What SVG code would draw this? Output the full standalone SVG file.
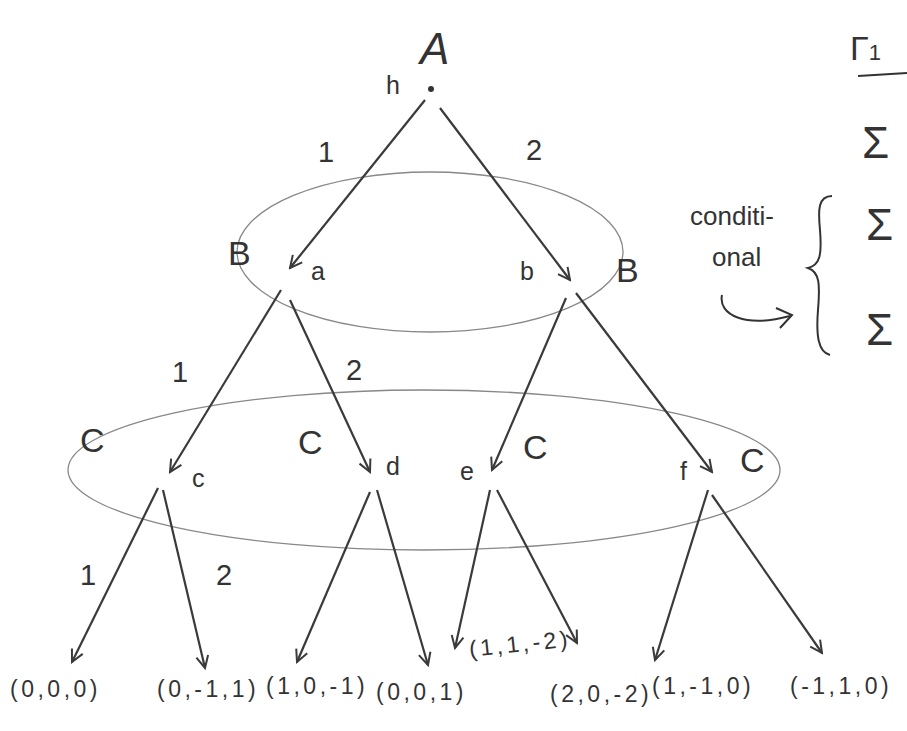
<svg xmlns="http://www.w3.org/2000/svg" width="907" height="731" viewBox="0 0 907 731">
<style>
text{font-family:"Liberation Sans",Arial,sans-serif;fill:#333}
.e{stroke:#3a3a3a;stroke-width:2.2;fill:none;marker-end:url(#ah)}
.set{stroke:#888;stroke-width:1.3;fill:none}
.pl{font-size:34px}
.sm{font-size:25px}
.lf{font-size:23px;letter-spacing:3.5px}
.el{font-size:29px}
.nt{font-size:26px}
</style>
<defs>
<marker id="ah" markerWidth="16" markerHeight="16" refX="14" refY="8" orient="auto" markerUnits="userSpaceOnUse">
<path d="M2,2 L14,8 L2,14" fill="none" stroke="#3a3a3a" stroke-width="2"/>
</marker>
</defs>
<rect width="907" height="731" fill="#fff"/>

<g id="infosets">
<ellipse class="set" cx="430" cy="252" rx="193" ry="80"/>
<ellipse class="set" cx="424" cy="470" rx="356" ry="80"/>
</g>

<g id="connectors">
<path class="e" d="M425,100 L290,268"/>
<path class="e" d="M440,108 L570,280"/>
<path class="e" d="M281,290 L170,472"/>
<path class="e" d="M290,300 L370,472"/>
<path class="e" d="M566,298 L492,470"/>
<path class="e" d="M576,293 L712,472"/>
<path class="e" d="M158,488 L72,662"/>
<path class="e" d="M163,490 L205,668"/>
<path class="e" d="M370,492 L297,662"/>
<path class="e" d="M377,490 L428,665"/>
<path class="e" d="M490,490 L455,648"/>
<path class="e" d="M497,490 L577,643"/>
<path class="e" d="M708,490 L655,660"/>
<path class="e" d="M712,495 L822,653"/>
<text class="el" x="318" y="162">1</text>
<text class="el" x="526" y="160">2</text>
<text class="el" x="172" y="382">1</text>
<text class="el" x="346" y="380">2</text>
<text class="el" x="80" y="585">1</text>
<text class="el" x="216" y="585">2</text>
</g>

<g id="root">
<circle cx="431" cy="89" r="3" fill="#333"/>
<text x="420" y="64" style="font-size:44px;font-style:italic">A</text>
<text class="sm" x="386" y="94">h</text>
</g>

<g id="node-a">
<text class="pl" x="228" y="265">B</text>
<text class="sm" x="311" y="280">a</text>
</g>
<g id="node-b">
<text class="sm" x="520" y="280">b</text>
<text class="pl" x="616" y="282">B</text>
</g>

<g id="node-c">
<text class="pl" x="80" y="452">C</text>
<text class="sm" x="192" y="487">c</text>
</g>
<g id="node-d">
<text class="pl" x="298" y="454">C</text>
<text class="sm" x="386" y="475">d</text>
</g>
<g id="node-e">
<text class="sm" x="460" y="480">e</text>
<text class="pl" x="523" y="459">C</text>
</g>
<g id="node-f">
<text class="sm" x="680" y="480">f</text>
<text class="pl" x="740" y="472">C</text>
</g>

<g id="leaves">
<text class="lf" x="10" y="697">(0,0,0)</text>
<text class="lf" x="157" y="697">(0,-1,1)</text>
<text class="lf" x="266" y="694">(1,0,-1)</text>
<text class="lf" x="376" y="700">(0,0,1)</text>
<text class="lf" x="470" y="657" transform="rotate(-6 470 657)">(1,1,-2)</text>
<text class="lf" x="550" y="702">(2,0,-2)</text>
<text class="lf" x="652" y="694">(1,-1,0)</text>
<text class="lf" x="790" y="694">(-1,1,0)</text>
</g>

<g id="side-note">
<text x="850" y="60" style="font-size:34px">Γ<tspan style="font-size:22px">1</tspan></text>
<path d="M858,76 L907,73" stroke="#333" stroke-width="2" fill="none"/>
<text x="862" y="158" style="font-size:44px">Σ</text>
<text x="866" y="240" style="font-size:44px">Σ</text>
<text x="866" y="345" style="font-size:44px">Σ</text>
<text class="nt" x="690" y="225">conditi-</text>
<text class="nt" x="712" y="266">onal</text>
<path d="M832,196 C818,196 818,210 820,230 C822,255 820,265 808,268 C820,272 820,285 818,310 C816,335 818,352 830,355" stroke="#333" stroke-width="2" fill="none"/>
<path d="M722,295 C718,315 745,328 790,316" stroke="#333" stroke-width="2" fill="none"/>
<path d="M776,308 L792,315 L780,328" stroke="#333" stroke-width="2" fill="none"/>
</g>
</svg>
